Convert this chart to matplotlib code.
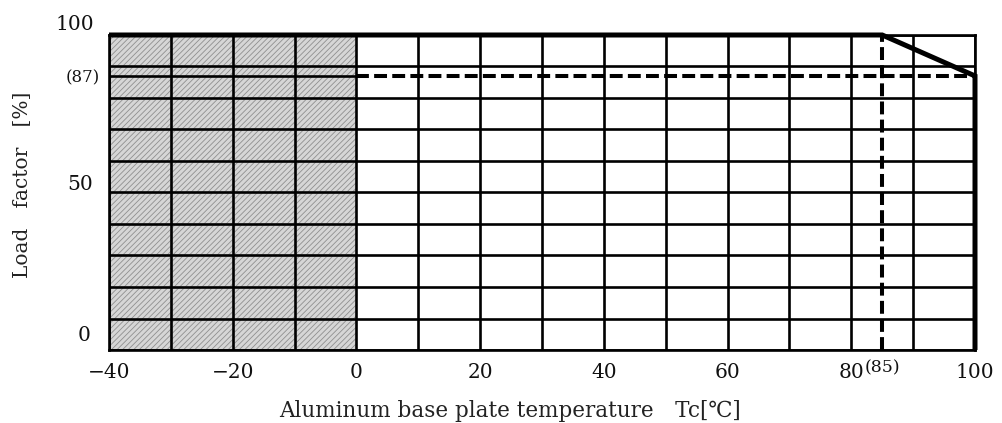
import matplotlib
matplotlib.use('Agg')
import matplotlib.pyplot as plt
import matplotlib.transforms as mtransforms

plt.rcParams['font.family'] = ['DejaVu Serif', 'DejaVu Sans']
plt.rcParams['hatch.linewidth'] = 0.6
plt.rcParams['hatch.color'] = '#8f8f8f'

# derating curve
curve_x = [-40, 85, 100, 100]
curve_y = [100, 100, 87, 0]
knee_x = 85
knee_y = 87
shade_x = [-40, 0]

x_grid = list(range(-40, 101, 10))
y_grid = list(range(0, 101, 10))
x_ticks = [-40, -20, 0, 20, 40, 60, 80, 100]
x_ticklabels = ['\u221240', '\u221220', '0', '20', '40', '60', '80', '100']
y_ticks = [0, 50, 87, 100]
y_ticklabels = ['0', '50', '(87)', '100']

fig = plt.figure(figsize=(10.02, 4.23), dpi=100)
ax = fig.add_axes([109/1002, 1-350/423, 866/1002, 315/423])
ax.set_xlim(-40, 100)
ax.set_ylim(0, 100)

ax.axvspan(shade_x[0], shade_x[1], facecolor='#d6d6d6', edgecolor='#8f8f8f',
           hatch='//////', linewidth=0, zorder=0)

for x in x_grid:
    ax.axvline(x, color='black', lw=1.9, zorder=1)
for y in y_grid:
    ax.axhline(y, color='black', lw=1.9, zorder=1)
ax.plot([shade_x[0], shade_x[1]], [knee_y, knee_y], color='black', lw=1.9, zorder=1)

ax.plot(curve_x, curve_y, color='black', lw=3.6, zorder=3, solid_capstyle='butt',
        solid_joinstyle='miter', clip_on=False)
ax.plot([shade_x[1], 100], [knee_y, knee_y], color='black', lw=2.9,
        dashes=(3.2, 1.3), zorder=2)
ax.plot([knee_x, knee_x], [0, 100], color='black', lw=2.9,
        dashes=(3.2, 1.3), zorder=2)

for s in ax.spines.values():
    s.set_linewidth(1.9)

ax.set_xticks(x_ticks)
ax.set_xticklabels(x_ticklabels, fontsize=14.5, color='#111111')
ax.set_yticks(y_ticks)
ax.set_yticklabels(y_ticklabels, fontsize=14.5, color='#111111')
ax.tick_params(length=0)
ax.tick_params(axis='x', pad=9)
ax.tick_params(axis='y', pad=11)

# nudge y labels the way the original sheet has them
offsets = {0: (-3, 17), 50: (-1, 10), 87: (6, 0), 100: (0, 12)}
for val, lab in zip(y_ticks, ax.get_yticklabels()):
    dx, dy = offsets[val]
    lab.set_transform(lab.get_transform() +
                      mtransforms.ScaledTranslation(dx/100, dy/100, fig.dpi_scale_trans))
    if val == 87:
        lab.set_fontsize(12)

ax.text(knee_x, -0.03, '(85)', transform=ax.get_xaxis_transform(),
        ha='center', va='top', fontsize=12.5, color='#111111')

ax.set_xlabel('Aluminum base plate temperature\u2003Tc[\u2103]', fontsize=15.5, color='#222222')
ax.xaxis.set_label_coords(0.463, -0.16)
ax.set_ylabel('Load\u2003factor\u2003[%]', fontsize=14.5, color='#222222')
ax.yaxis.set_label_coords(-0.089, 0.524)

fig.savefig('out.png', dpi=100)
